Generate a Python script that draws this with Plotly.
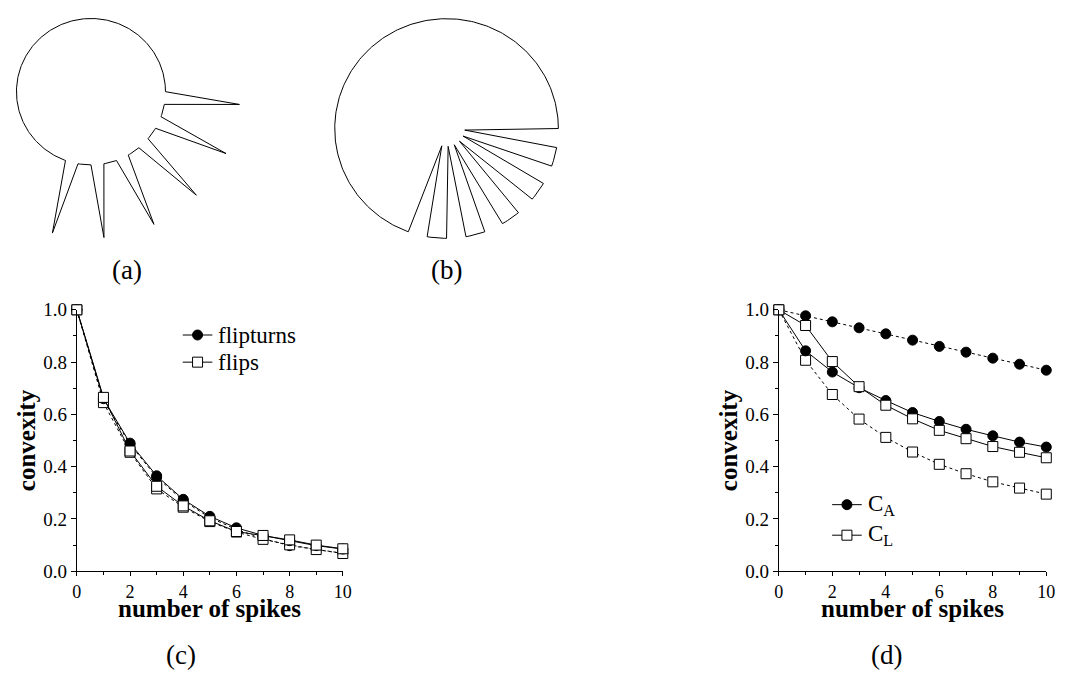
import math
import plotly.graph_objects as go

W, H = 1069, 687
OFF = 8  # default page margin of the html body

# ---------------- data ----------------
n_spikes = [0, 1, 2, 3, 4, 5, 6, 7, 8, 9, 10]

# panel (c)
flipturns = [1.0, 0.66, 0.49, 0.365, 0.275, 0.21, 0.166, 0.137, 0.117, 0.098, 0.085]
flips = [1.0, 0.665, 0.46, 0.325, 0.25, 0.193, 0.152, 0.137, 0.12, 0.1, 0.086]
flipturns_dot = [1.0, 0.655, 0.485, 0.36, 0.27, 0.205, 0.16, 0.125, 0.098, 0.084, 0.069]
flips_dot = [1.0, 0.645, 0.455, 0.315, 0.245, 0.19, 0.15, 0.122, 0.101, 0.083, 0.068]

# panel (d)
CA = [1.0, 0.843, 0.762, 0.702, 0.653, 0.607, 0.573, 0.543, 0.518, 0.494, 0.475]
CL = [1.0, 0.94, 0.802, 0.706, 0.635, 0.583, 0.539, 0.507, 0.477, 0.455, 0.434]
CA_dot = [1.0, 0.977, 0.954, 0.931, 0.908, 0.884, 0.860, 0.838, 0.815, 0.792, 0.769]
CL_dot = [1.0, 0.807, 0.676, 0.582, 0.512, 0.456, 0.409, 0.373, 0.342, 0.318, 0.295]

x_ticks = [0, 2, 4, 6, 8, 10]
y_ticks = [0.0, 0.2, 0.4, 0.6, 0.8, 1.0]

legend_c = ["flipturns", "flips"]
legend_d = ["C<sub>A</sub>", "C<sub>L</sub>"]

# drawings (a) and (b): spikes on a circle
spike_start_deg = [0, 20, 40, 60, 80, 100]
spike_width_deg = 10

# ---------------- geometry helpers ----------------
def pt(cx, cy, r, deg):
    a = math.radians(deg)
    return cx + r * math.cos(a), cy + r * math.sin(a)

def arc(cx, cy, r, d0, d1, step=1.0):
    n = max(2, int(abs(d1 - d0) / step) + 1)
    return [pt(cx, cy, r, d0 + (d1 - d0) * i / (n - 1)) for i in range(n)]

def spiky_outline(cx, cy, r, tip_r):
    pts = []
    for k, s in enumerate(spike_start_deg):
        e = s + spike_width_deg
        pts.append(pt(cx, cy, r, s))
        pts.append(pt(cx, cy, tip_r, s + spike_width_deg / 2))
        pts.append(pt(cx, cy, r, e))
        if k + 1 < len(spike_start_deg):
            pts += arc(cx, cy, r, e, spike_start_deg[k + 1], 1.0)
    last = spike_start_deg[-1] + spike_width_deg
    pts += arc(cx, cy, r, last, 360 + spike_start_deg[0], 1.0)
    return pts

def px(x):
    return (x - OFF) / W

def py(y):
    return 1 - (y - OFF) / H

SERIF = "Liberation Serif"

fig = go.Figure()

# ---------------- drawings ----------------
a_pts = spiky_outline(87, 84, 75.5, 151)          # (a): outward spikes
b_pts = spiky_outline(447.3, 122, 113.3, 18.5)    # (b): inward notches
for pts in (a_pts, b_pts):
    fig.add_trace(go.Scatter(x=[p[0] for p in pts], y=[p[1] for p in pts], mode="lines",
                             line=dict(color="black", width=1), xaxis="x3", yaxis="y3",
                             showlegend=False, hoverinfo="skip", cliponaxis=False))

# ---------------- series ----------------
def marker_style(sym):
    fill = "black" if sym == "circle" else "white"
    return dict(symbol=sym, size=10, color=fill, line=dict(color="black", width=1))

def series(y, sym, dash, xa, ya, name):
    return go.Scatter(
        x=n_spikes, y=y, mode="lines+markers", name=name, showlegend=False,
        xaxis=xa, yaxis=ya, cliponaxis=False,
        line=dict(color="black", width=1, dash=dash), marker=marker_style(sym))

fig.add_trace(series(flipturns_dot, "circle", "dot", "x", "y", "flipturns (dotted)"))
fig.add_trace(series(flips_dot, "square", "dot", "x", "y", "flips (dotted)"))
fig.add_trace(series(flipturns, "circle", "solid", "x", "y", "flipturns"))
fig.add_trace(series(flips, "square", "solid", "x", "y", "flips"))

fig.add_trace(series(CA_dot, "circle", "dot", "x2", "y2", "C_A (dotted)"))
fig.add_trace(series(CL_dot, "square", "dot", "x2", "y2", "C_L (dotted)"))
fig.add_trace(series(CA, "circle", "solid", "x2", "y2", "C_A"))
fig.add_trace(series(CL, "square", "solid", "x2", "y2", "C_L"))

# ---------------- legends (glyph + text) ----------------
ann = []
def legend_block(x0, y0, dy, labels, size):
    for i, (lab, sym) in enumerate(zip(labels, ["circle", "square"])):
        yy = y0 + i * dy
        fig.add_trace(go.Scatter(x=[x0, x0 + 30], y=[yy, yy], mode="lines",
                                 xaxis="x3", yaxis="y3", showlegend=False, hoverinfo="skip",
                                 line=dict(color="black", width=1)))
        fig.add_trace(go.Scatter(x=[x0 + 15], y=[yy], mode="markers",
                                 xaxis="x3", yaxis="y3", showlegend=False, hoverinfo="skip",
                                 marker=marker_style(sym)))
        ann.append(dict(text=lab, x=px(x0 + 34), y=py(yy), xref="paper", yref="paper",
                        xanchor="left", yanchor="middle", showarrow=False,
                        font=dict(family=SERIF, size=size, color="black")))

legend_block(180, 335, 28, legend_c, 23)
legend_block(838, 510, 31.5, legend_d, 23)

# ---------------- axes ----------------
tickfont = dict(family=SERIF, size=18, color="black")

def xaxis_cfg(x0, x1, anchor):
    return dict(domain=[px(x0), px(x1)], range=[0, 10], tickvals=x_ticks, anchor=anchor,
                showline=True, linecolor="black", linewidth=1, mirror=False,
                showgrid=False, zeroline=False, ticks="outside", ticklen=4,
                tickcolor="black", tickfont=tickfont,
                minor=dict(dtick=1, ticks="outside", ticklen=3, tickcolor="black", showgrid=False))

def yaxis_cfg(y_top, y_bot, anchor):
    return dict(domain=[py(y_bot), py(y_top)], range=[0, 1.0], tickvals=y_ticks,
                tickformat=".1f", anchor=anchor,
                showline=True, linecolor="black", linewidth=1, mirror=False,
                showgrid=False, zeroline=False, ticks="outside", ticklen=5,
                tickcolor="black", tickfont=dict(family=SERIF, size=19, color="black"),
                minor=dict(dtick=0.1, ticks="outside", ticklen=3, tickcolor="black", showgrid=False))

fig.update_layout(
    width=W, height=H,
    margin=dict(l=0, r=0, t=0, b=0),
    paper_bgcolor="white", plot_bgcolor="rgba(0,0,0,0)",
    font=dict(family=SERIF, color="black"),
    showlegend=False,
    xaxis=xaxis_cfg(72.7, 342.2, "y"),
    yaxis=yaxis_cfg(309, 578.7, "x"),
    xaxis2=xaxis_cfg(784, 1055, "y2"),
    yaxis2=yaxis_cfg(309, 578.7, "x2"),
    xaxis3=dict(domain=[0, 1], range=[OFF, W + OFF], visible=False, fixedrange=True, anchor="y3"),
    yaxis3=dict(domain=[0, 1], range=[H + OFF, OFF], visible=False, fixedrange=True, anchor="x3"),
)

# ---------------- text ----------------
title_font = dict(family=SERIF, size=25, color="black")
for cx, ytx in [(207.5, 21.7), (919.5, 733)]:
    ann.append(dict(text="<b>number of spikes</b>", x=px(cx), y=py(617), xref="paper", yref="paper",
                    xanchor="center", yanchor="middle", showarrow=False, font=title_font))
    ann.append(dict(text="<b>convexity</b>", x=px(ytx), y=py(444), xref="paper", yref="paper",
                    xanchor="center", yanchor="middle", showarrow=False, font=title_font, textangle=-90))

label_font = dict(family=SERIF, size=27, color="black")
for lab, lx, ly in [("(a)", 124, 268), ("(b)", 447, 268), ("(c)", 178, 665), ("(d)", 893, 665)]:
    ann.append(dict(text=lab, x=px(lx), y=py(ly), xref="paper", yref="paper",
                    xanchor="center", yanchor="middle", showarrow=False, font=label_font))

fig.update_layout(annotations=ann)

fig.write_html("out.html")
